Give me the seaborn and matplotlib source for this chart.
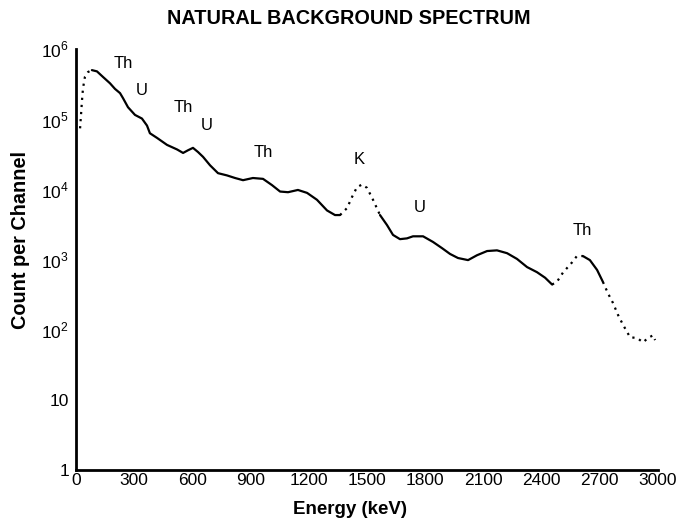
import matplotlib
matplotlib.use("Agg")
import matplotlib.pyplot as plt
import seaborn as sns
import pandas as pd
import numpy as np

# spectrum
energy_kev = [21, 31, 36, 46, 62, 82, 108, 139, 175, 201, 227, 242, 268, 304, 340,
              366, 381, 418, 469, 521, 552, 577, 603, 629, 655, 691, 732, 778, 820,
              861, 912, 964, 1010, 1052, 1093, 1144, 1191, 1242, 1294, 1335, 1361,
              1397, 1423, 1448, 1474, 1500, 1531, 1567, 1603, 1634, 1670, 1706, 1737,
              1789, 1840, 1887, 1928, 1969, 2021, 2067, 2119, 2170, 2222, 2273, 2325,
              2376, 2418, 2454, 2479, 2510, 2557, 2582, 2613, 2649, 2686, 2716, 2742,
              2768, 2794, 2820, 2856, 2892, 2923, 2948, 2974, 2985]
counts = [74000, 186000, 275000, 400000, 470000, 500000, 480000, 400000, 325000,
          270000, 235000, 200000, 148000, 115000, 102000, 81000, 63000, 54000, 43000,
          37000, 33000, 36000, 39000, 34000, 29000, 22000, 17000, 15800, 14500, 13500,
          14500, 14100, 11500, 9300, 9100, 9800, 8900, 7100, 5000, 4300, 4300, 5400,
          7800, 10700, 11700, 10500, 7100, 4300, 3100, 2240, 1950, 2000, 2140, 2140,
          1780, 1450, 1200, 1050, 980, 1150, 1320, 1350, 1230, 1020, 780, 660, 550,
          440, 480, 650, 910, 1120, 1120, 980, 710, 480, 330, 240, 162, 117, 78, 76,
          66, 76, 83, 71]

# energy ranges printed as dots instead of a solid trace
dotted_ranges = [(0, 82), (1361, 1567), (2454, 2613), (2716, 3000)]
solid_ranges = [(82, 1361), (1567, 2454), (2613, 2716)]

peak_labels = ["Th", "U", "Th", "U", "Th", "K", "U", "Th"]
label_energy = [242, 340, 552, 675, 964, 1459, 1773, 2608]
label_counts = [631000, 257000, 148000, 81000, 33000, 27000, 5500, 2630]

df = pd.DataFrame({"Energy": energy_kev, "Counts": counts})

sns.set_style("white")
plt.rcParams["font.family"] = ["Liberation Sans", "DejaVu Sans"]
plt.rcParams["mathtext.fontset"] = "custom"
plt.rcParams["mathtext.rm"] = "Liberation Sans"
plt.rcParams["text.color"] = "black"

fig = plt.figure(figsize=(6.97, 5.26), dpi=100)
ax = fig.add_axes([76 / 697, 56 / 526, 582 / 697, 421 / 526])

for lo, hi in solid_ranges:
    sub = df[(df["Energy"] >= lo) & (df["Energy"] <= hi)]
    sns.lineplot(data=sub, x="Energy", y="Counts", ax=ax, color="black",
                 linewidth=1.6, estimator=None, sort=False)
for lo, hi in dotted_ranges:
    sub = df[(df["Energy"] >= lo) & (df["Energy"] <= hi)]
    sns.lineplot(data=sub, x="Energy", y="Counts", ax=ax, color="black",
                 linewidth=1.6, linestyle=(0, (1, 2.2)), estimator=None, sort=False)

ax.set_yscale("log")
ax.set_xlim(0, 3000)
ax.set_ylim(1, 1e6)
ax.set_xticks(range(0, 3001, 300))
ax.set_yticks([1, 10, 1e2, 1e3, 1e4, 1e5, 1e6])
ax.set_yticklabels(["1", "10", "$10^2$", "$10^3$", "$10^4$", "$10^5$", "$10^6$"])
ax.yaxis.set_minor_locator(matplotlib.ticker.NullLocator())
ax.tick_params(axis="both", direction="in", length=4, width=1.5, labelsize=12.5,
               colors="black")
ax.tick_params(axis="x", pad=2)
ax.tick_params(axis="y", pad=5)

for side in ["top", "right"]:
    ax.spines[side].set_visible(False)
for side in ["left", "bottom"]:
    ax.spines[side].set_linewidth(2)
    ax.spines[side].set_color("black")

for txt, e, c in zip(peak_labels, label_energy, label_counts):
    ax.text(e, c, txt, ha="center", va="center", fontsize=12, color="black")

ax.set_xlabel("")
ax.set_ylabel("")
fig.text(350 / 697, 1 - 510 / 526, "Energy (keV)", ha="center", va="center",
         fontsize=13.5, fontweight="bold")
fig.text(21 / 697, 1 - 240 / 526, "Count per Channel", ha="center", va="center",
         rotation=90, fontsize=14.3, fontweight="bold")
fig.text(349 / 697, 1 - 18 / 526, "NATURAL BACKGROUND SPECTRUM", ha="center",
         va="center", fontsize=14.3, fontweight="bold")

plt.savefig("out.png", dpi=100)
